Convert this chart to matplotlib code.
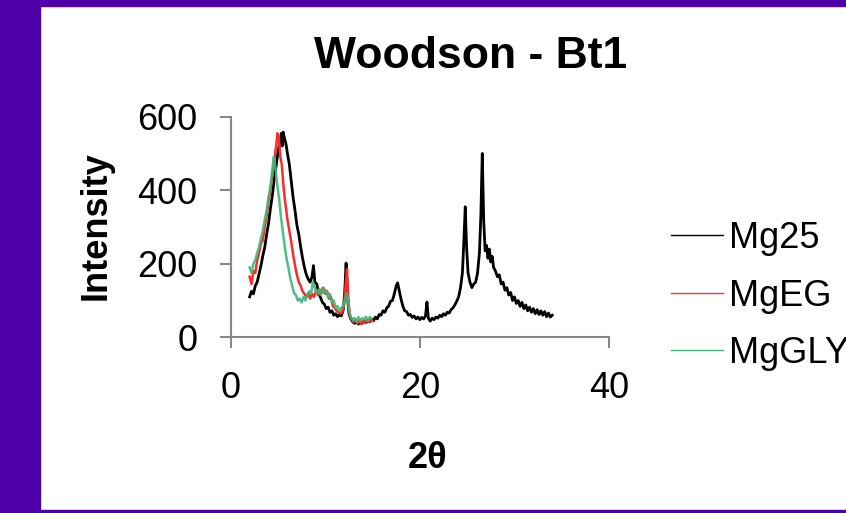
# -*- coding: utf-8 -*-
"""XRD patterns, Woodson - Bt1 (Mg25 / MgEG / MgGLY)"""

import matplotlib
matplotlib.use("Agg")
import matplotlib.pyplot as plt
from matplotlib.patches import Rectangle

plt.rcParams['font.family'] = ['Liberation Sans', 'DejaVu Sans']

# Mg25 (black)
mg25_x = [2.0, 2.2, 2.4, 2.6, 2.8, 3.0, 3.2, 3.4, 3.6, 3.8, 4.0, 4.2, 4.4, 4.6, 4.8,
          5.0, 5.2, 5.35, 5.45, 5.55, 5.7, 5.85, 6.0, 6.2, 6.4, 6.6, 6.8, 7.0, 7.2,
          7.4, 7.6, 7.8, 8.0, 8.2, 8.4, 8.6, 8.75, 8.9, 9.1, 9.3, 9.5, 9.7, 9.9,
          10.1, 10.3, 10.5, 10.7, 10.9, 11.1, 11.3, 11.5, 11.7, 11.9, 12.05, 12.2,
          12.35, 12.5, 12.7, 12.9, 13.1, 13.3, 13.5, 13.7, 13.9, 14.1, 14.3, 14.5,
          14.7, 14.9, 15.1, 15.3, 15.5, 15.7, 15.9, 16.1, 16.3, 16.5, 16.7, 16.9,
          17.1, 17.3, 17.5, 17.65, 17.8, 18.0, 18.2, 18.4, 18.6, 18.8, 19.0, 19.2,
          19.4, 19.6, 19.8, 20.0, 20.2, 20.4, 20.6, 20.75, 20.9, 21.1, 21.3, 21.5,
          21.7, 21.9, 22.1, 22.3, 22.5, 22.7, 22.9, 23.1, 23.3, 23.5, 23.7, 23.9,
          24.1, 24.3, 24.5, 24.65, 24.8, 24.95, 25.1, 25.3, 25.5, 25.7, 25.9, 26.1,
          26.3, 26.45, 26.6, 26.75, 26.9, 27.05, 27.2, 27.35, 27.5, 27.65, 27.8,
          28.0, 28.2, 28.4, 28.6, 28.8, 29.0, 29.2, 29.4, 29.6, 29.8, 30.0, 30.2,
          30.4, 30.6, 30.8, 31.0, 31.2, 31.4, 31.6, 31.8, 32.0, 32.2, 32.4, 32.6,
          32.8, 33.0, 33.2, 33.4, 33.6, 33.8, 34.0]
mg25_y = [110, 125, 118, 140, 150, 172, 195, 222, 245, 280, 310, 350, 385, 430, 465,
          505, 530, 555, 520, 558, 540, 525, 500, 470, 425, 380, 345, 305, 280,
          245, 215, 190, 170, 158, 150, 165, 195, 150, 145, 120, 108, 95, 90,
          78, 82, 68, 72, 60, 64, 56, 62, 58, 75, 120, 202,
          110, 65, 50, 42, 38, 44, 36, 42, 38, 45, 40, 46,
          42, 50, 45, 55, 50, 62, 60, 72, 68, 80, 85, 98,
          100, 118, 140, 148, 130, 105, 85, 72, 70, 60, 62, 54,
          58, 50, 55, 48, 54, 50, 58, 96, 52, 44, 52, 48,
          55, 52, 60, 56, 64, 60, 68, 66, 75, 80, 88, 98,
          110, 135, 175, 260, 355, 240, 175, 150, 135, 145, 150, 175,
          230, 330, 500, 320, 235, 250, 215, 240, 205, 220, 190,
          180, 165, 170, 145, 150, 128, 135, 115, 122, 100, 110, 92,
          100, 84, 95, 78, 88, 72, 82, 68, 78, 64, 75, 62,
          72, 60, 70, 56, 66, 55, 60]

# MgEG (red)
mgeg_x = [2.0, 2.2, 2.4, 2.6, 2.8, 3.0, 3.2, 3.4, 3.6, 3.8, 4.0, 4.2, 4.4, 4.6, 4.8,
          4.95, 5.1, 5.25, 5.4, 5.55, 5.7, 5.85, 6.0, 6.2, 6.4, 6.6, 6.8, 7.0, 7.2,
          7.4, 7.6, 7.8, 8.0, 8.2, 8.4, 8.6, 8.8, 9.0, 9.2, 9.4, 9.6, 9.8, 10.0,
          10.2, 10.4, 10.6, 10.8, 11.0, 11.2, 11.4, 11.6, 11.8, 12.0, 12.15, 12.3,
          12.45, 12.6, 12.8, 13.0, 13.2, 13.4, 13.6, 13.8, 14.0, 14.2, 14.4, 14.6,
          14.8, 15.0]
mgeg_y = [165, 145, 180, 175, 210, 230, 255, 265, 300, 330, 370, 400, 440, 480, 520,
          555, 540, 490, 470, 420, 380, 350, 320, 290, 260, 225, 195, 170, 150,
          140, 125, 118, 110, 120, 105, 118, 110, 125, 115, 130, 120, 135, 118,
          125, 105, 110, 85, 80, 72, 68, 65, 70, 90, 140, 185,
          100, 60, 50, 42, 48, 38, 45, 36, 44, 40, 48, 42,
          46, 44]

# MgGLY (green)
mggly_x = [2.0, 2.2, 2.4, 2.6, 2.8, 3.0, 3.2, 3.4, 3.6, 3.8, 4.0, 4.2, 4.4, 4.55,
           4.7, 4.85, 5.0, 5.15, 5.3, 5.45, 5.6, 5.75, 5.9, 6.1, 6.3, 6.5, 6.7,
           6.9, 7.1, 7.3, 7.5, 7.7, 7.9, 8.1, 8.3, 8.5, 8.7, 8.9, 9.1, 9.3, 9.5,
           9.7, 9.9, 10.1, 10.3, 10.5, 10.7, 10.9, 11.1, 11.3, 11.5, 11.7, 11.9,
           12.1, 12.3, 12.5, 12.7, 12.9, 13.1, 13.3, 13.5, 13.7, 13.9, 14.1, 14.3,
           14.5, 14.7, 14.9]
mggly_y = [190, 175, 200, 210, 230, 245, 270, 290, 320, 345, 380, 410, 455, 490,
           470, 430, 400, 370, 330, 300, 270, 240, 215, 190, 160, 140, 120,
           115, 100, 105, 95, 110, 100, 115, 125, 118, 150, 135, 118, 130, 115,
           135, 120, 128, 108, 118, 95, 100, 80, 85, 72, 80, 85,
           105, 120, 75, 55, 45, 52, 42, 55, 45, 52, 48, 56,
           45, 55, 50]

purple = '#5000a8'
grey = '#878787'

fig = plt.figure(figsize=(8.46, 5.13), dpi=100)
ax = fig.add_axes([230.7 / 846, 1 - 337.3 / 513, 378.3 / 846, 220.6 / 513])

ax.plot(mg25_x, mg25_y, color='black', lw=2.0, label='Mg25')
ax.plot(mgeg_x, mgeg_y, color='#ff2a2a', lw=1.8, label='MgEG')
ax.plot(mggly_x, mggly_y, color='#3cb878', lw=1.8, alpha=0.9, label='MgGLY')

ax.set_xlim(0, 40)
ax.set_ylim(0, 600)
ax.set_xticks([0, 20, 40])
ax.set_yticks([0, 200, 400, 600])
for s in ['top', 'right']:
    ax.spines[s].set_visible(False)
for s in ['left', 'bottom']:
    ax.spines[s].set_color(grey)
    ax.spines[s].set_linewidth(1.5)
ax.tick_params(direction='out', length=8, width=1.5, color=grey,
               labelsize=26, pad=16)

leg = ax.legend(loc='center left', bbox_to_anchor=(671 / 846, 1 - 296 / 513),
                bbox_transform=fig.transFigure, frameon=False, fontsize=26,
                handlelength=1.44, handletextpad=0.17, labelspacing=0.62,
                borderpad=0, borderaxespad=0)
for line in leg.get_lines():
    line.set_linewidth(1.0)
    line.set_alpha(1)

fig.text(471 / 846, 1 - 68 / 513, 'Woodson - Bt1', fontsize=32, fontweight='bold',
         ha='center', va='baseline')
fig.text(96 / 846, 1 - 226 / 513, 'Intensity', fontsize=26, fontweight='bold',
         rotation=90, ha='center', va='center')
fig.text(428 / 846, 1 - 468 / 513, '2θ', fontsize=26, fontweight='bold',
         ha='center', va='baseline')

# purple frame (left, top, bottom)
fig.patches.append(Rectangle((0, 0), 40 / 846, 1, transform=fig.transFigure,
                             color=purple, zorder=-1))
fig.patches.append(Rectangle((0, 1 - 6 / 513), 1, 6 / 513, transform=fig.transFigure,
                             color=purple, zorder=-1))
fig.patches.append(Rectangle((0, 0), 1, 3 / 513, transform=fig.transFigure,
                             color=purple, zorder=-1))

fig.savefig('out.png', dpi=100)
